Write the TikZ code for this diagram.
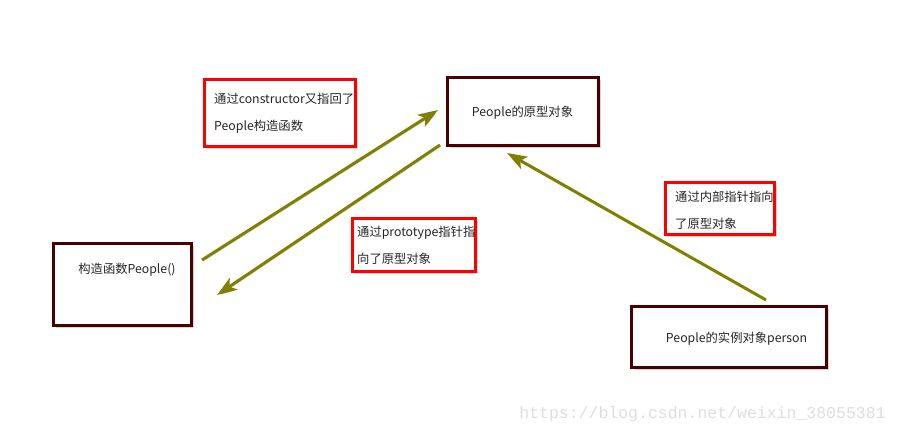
\documentclass[tikz,border=0pt]{standalone}
\usepackage{fontspec}
\setmainfont{Noto Sans CJK SC}
\newfontfamily\urlfont{Liberation Mono}
\usetikzlibrary{arrows.meta,shadows}

\definecolor{granate}{HTML}{4A0000}
\definecolor{oliva}{HTML}{808000}

\tikzset{
  caja/.style={draw=granate, line width=3pt, fill=white,
    drop shadow={shadow xshift=2.5pt, shadow yshift=-2.5pt, opacity=0.35}},
  nota/.style={draw=red, line width=3pt, fill=white,
    drop shadow={shadow xshift=2.5pt, shadow yshift=-2.5pt, opacity=0.35}},
  texto/.style={text=black!85, inner sep=0pt,
    font=\fontsize{12.3}{27}\selectfont},
  flecha/.style={draw=oliva, line width=3pt,
    -{Stealth[length=20pt, width=14pt, inset=5pt]},
    preaction={draw=black, opacity=0.2,
      transform canvas={shift={(1pt,-1.5pt)}}}}
}

\begin{document}
\begin{tikzpicture}[x=1pt, y=-1pt]
  \useasboundingbox (0,0) rectangle (899,435);

  % cajas principales
  \node[caja, minimum width=151pt, minimum height=68pt] (proto) at (523,111.5) {};
  \node[caja, minimum width=138pt, minimum height=82pt] (ctor) at (122.5,284.5) {};
  \node[caja, minimum width=195pt, minimum height=61pt] (inst) at (729,337) {};

  \node[texto] (protoTxt) at (522.5,113) {People的原型对象};
  \node[texto] (ctorTxt) at (127,270) {构造函数People()};
  \node[texto] (instTxt) at (736.5,338.5) {People的实例对象person};

  % notas en rojo
  \node[nota, minimum width=151pt, minimum height=67pt] (nota1) at (280,113) {};
  \node[nota, minimum width=123pt, minimum height=53pt] (nota2) at (414,245) {};
  \node[nota, minimum width=109pt, minimum height=52pt] (nota3) at (720,208.5) {};

  \node[texto, anchor=west, align=left] (nota1Txt) at (214,113.5)
    {通过constructor又指回了\\People构造函数};
  \node[texto, anchor=west, align=left] (nota2Txt) at (357,245)
    {通过prototype指针指\\向了原型对象};
  \node[texto, anchor=west, align=left] (nota3Txt) at (675,210)
    {通过内部指针指向\\了原型对象};

  % extremos de las flechas
  \coordinate (ini1) at (202,260);
  \coordinate (fin1) at (438,110);
  \coordinate (ini2) at (440,145);
  \coordinate (fin2) at (217,295);
  \coordinate (ini3) at (766,300);
  \coordinate (fin3) at (507,153);

  \draw[flecha] (ini1) -- (fin1);
  \draw[flecha] (ini2) -- (fin2);
  \draw[flecha] (ini3) -- (fin3);

  % marca de agua
  \node[text=black!13, inner sep=0pt, font=\urlfont\fontsize{16.5}{18}\selectfont]
    (marca) at (702.5,414) {https://blog.csdn.net/weixin\_38055381};
\end{tikzpicture}
\end{document}
